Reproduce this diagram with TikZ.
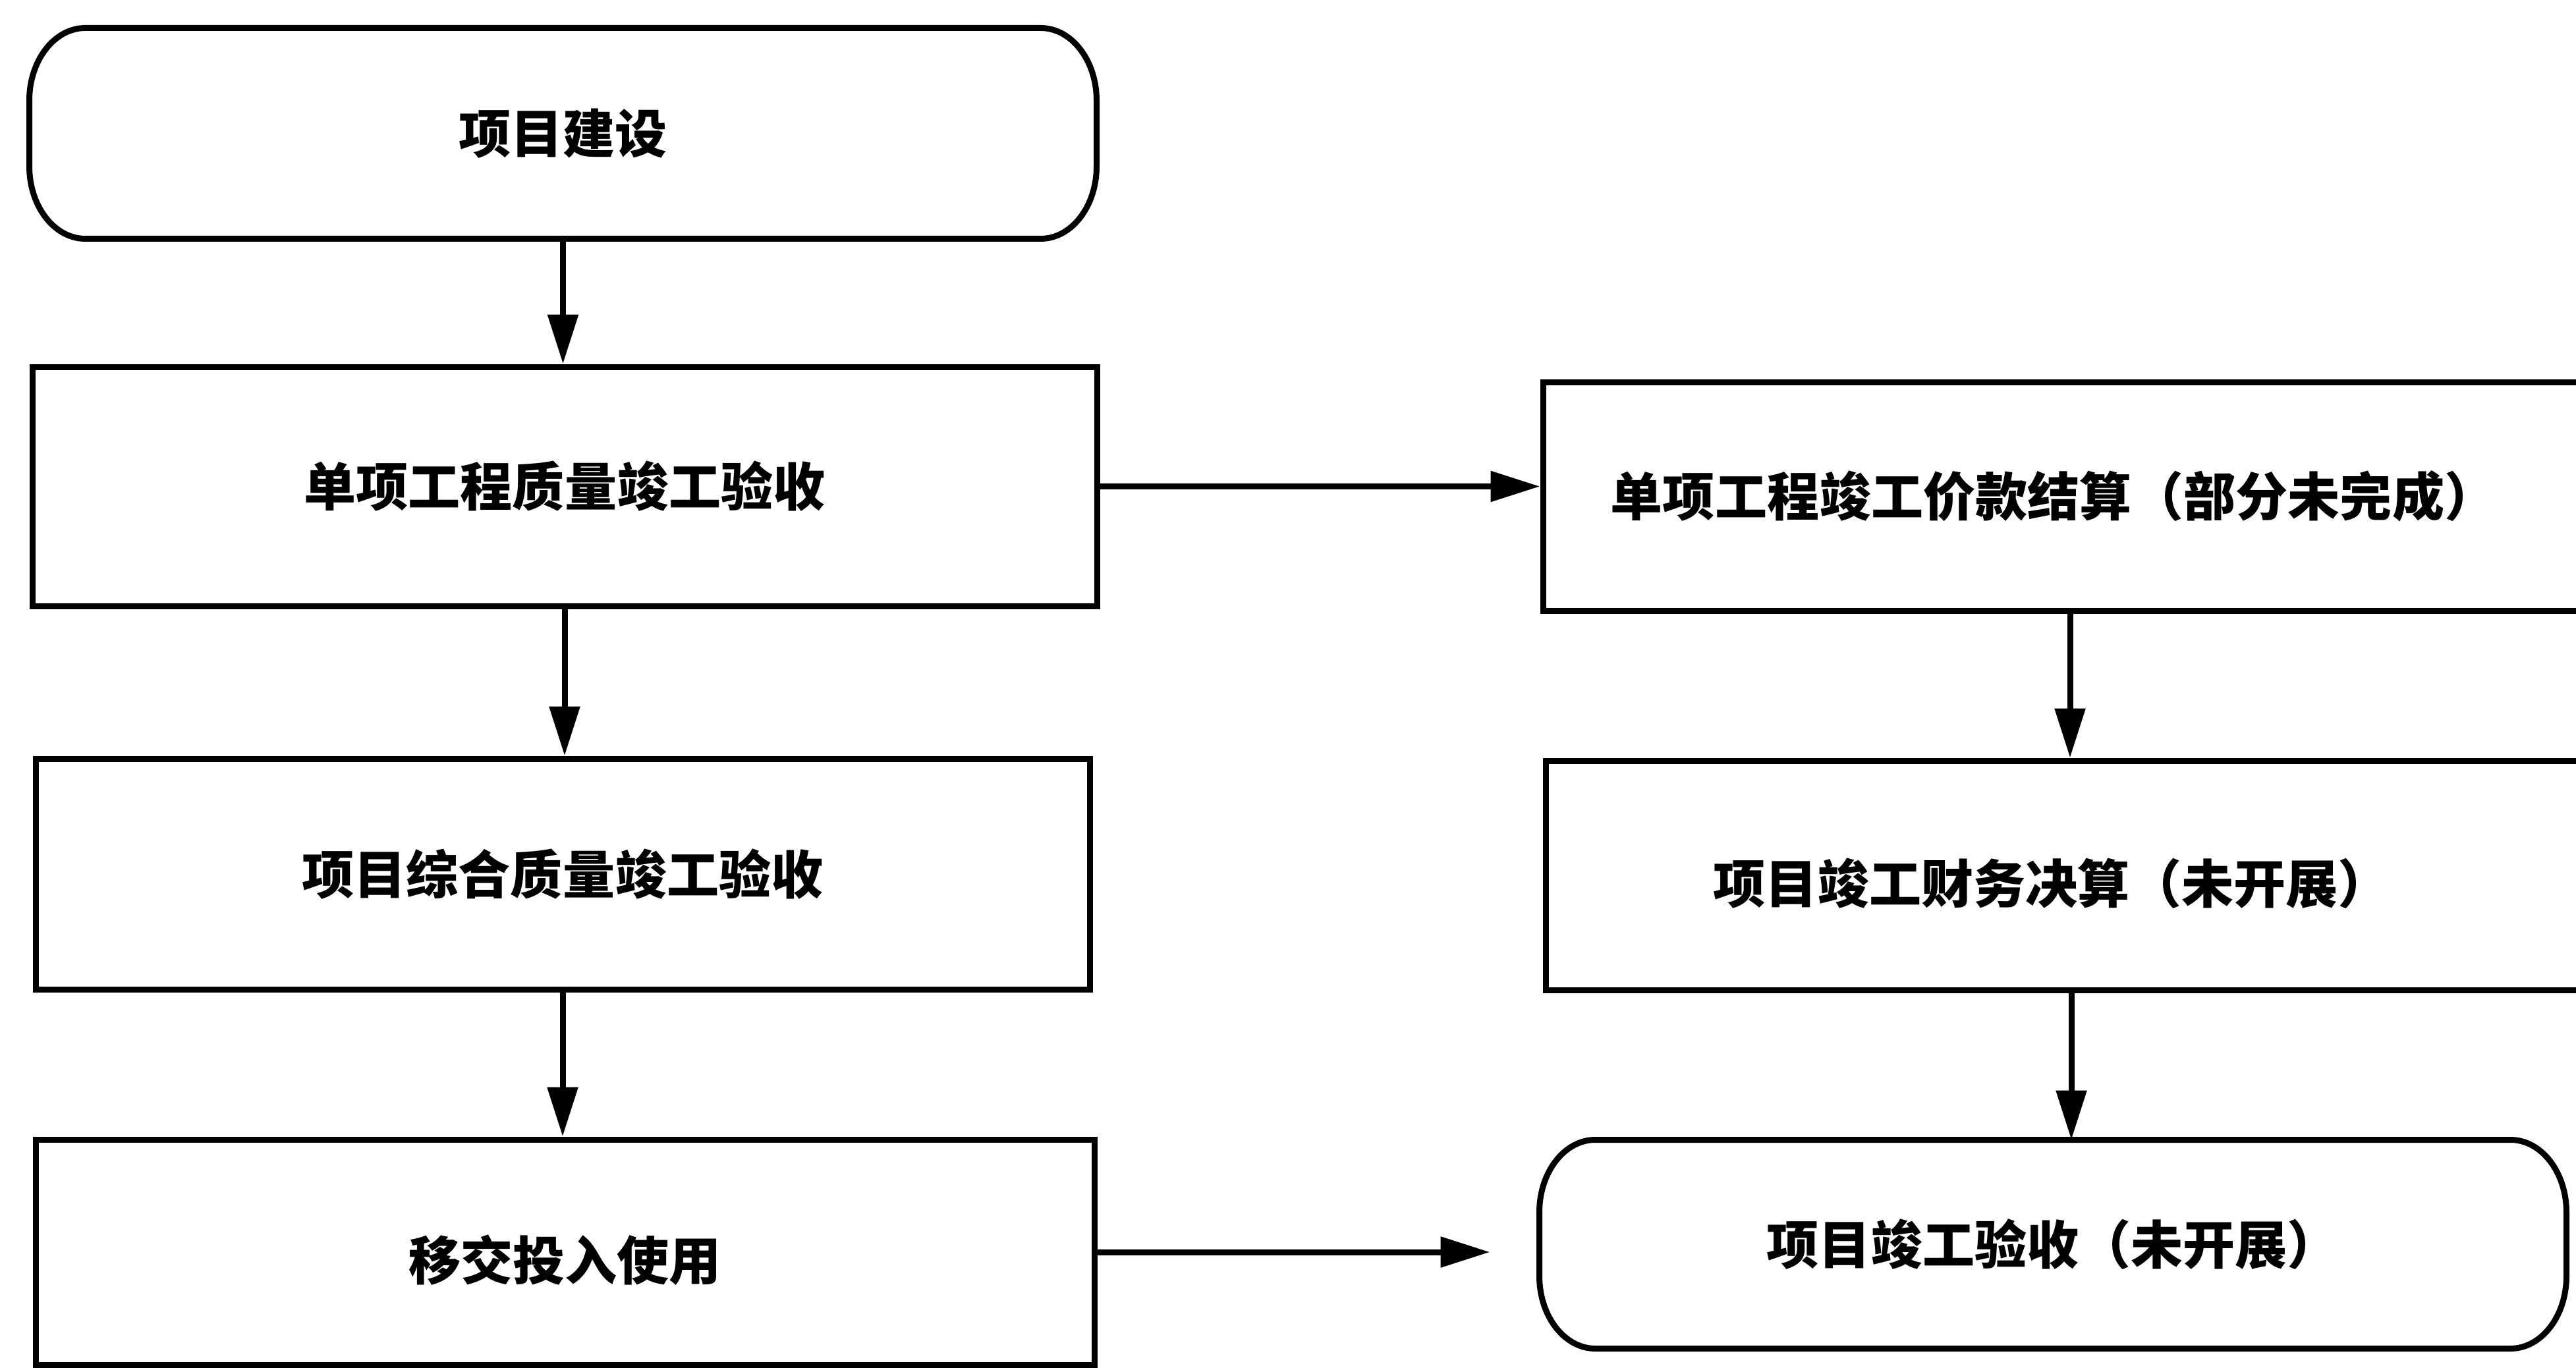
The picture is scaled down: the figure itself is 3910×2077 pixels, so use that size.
\documentclass[tikz,border=0pt]{standalone}
\usepackage{fontspec}
\newfontfamily\cjk{Noto Sans CJK SC}
\usetikzlibrary{arrows.meta,calc}
\newcommand\stadiumpath[1]{%
  \draw[line width=0.9mm,line join=round]
    ($(#1.north west)+(85,0)$) -- ($(#1.north east)+(-85,0)$)
    arc[start angle=90,end angle=0,x radius=8.5mm,y radius=11mm]
    -- ($(#1.south east)+(0,-110)$)
    arc[start angle=0,end angle=-90,x radius=8.5mm,y radius=11mm]
    -- ($(#1.south west)+(85,0)$)
    arc[start angle=270,end angle=180,x radius=8.5mm,y radius=11mm]
    -- ($(#1.north west)+(0,110)$)
    arc[start angle=180,end angle=90,x radius=8.5mm,y radius=11mm] -- cycle;}
\begin{document}
\begin{tikzpicture}[x=0.1mm,y=-0.1mm,
  box/.style={draw,line width=0.9mm,rectangle,inner sep=0pt,
    font=\cjk\bfseries\fontsize{22.5pt}{27pt}\selectfont},
  term/.style={box,draw=none},
  arr/.style={line width=0.9mm,-{Triangle[length=7.5mm,width=4.5mm]}}]
\fill[white] (0,0) rectangle (3910,2077);
\useasboundingbox (0,0) rectangle (3910,2077);
% left column
\node[term,minimum width=161.1mm,minimum height=31.1mm] (top) at (854.5,202.5) {项目建设};
\stadiumpath{top}
\node[box,minimum width=161.6mm,minimum height=36.3mm] (b2) at (857,738.5) {单项工程质量竣工验收};
\node[box,minimum width=160mm,minimum height=35mm] (b3) at (854,1327) {项目综合质量竣工验收};
\node[box,minimum width=160.7mm,minimum height=34.2mm] (b4) at (857.5,1901) {\raisebox{-1.2mm}[\height][\depth]{移交投入使用}};
% right column
\node[box,minimum width=160mm,minimum height=34.7mm] (r2) at (3142,753.5) {\kern-5mm 单项工程竣工价款结算（部分未完成）};
\node[box,minimum width=159.6mm,minimum height=34.8mm] (r3) at (3144,1329) {\kern-6mm\raisebox{-1.2mm}[\height][\depth]{项目竣工财务决算（未开展）}};
\node[term,minimum width=155mm,minimum height=30.8mm] (r4) at (3116,1889) {项目竣工验收（未开展）};
\stadiumpath{r4}
% connectors
\draw[arr] (top.south) -- (top.south |- b2.north);
\draw[arr] (b2.south) -- (b2.south |- b3.north);
\draw[arr] (b3.south) -- (b3.south |- b4.north);
\draw[arr] (b2.east) -- (b2.east -| r2.west);
\draw[arr] (r2.south) -- (r2.south |- r3.north);
\draw[arr] (r3.south) -- (r3.south |- r4.north);
\draw[arr,shorten >=7.5mm] (b4.east) -- (b4.east -| r4.west);
\end{tikzpicture}
\end{document}
